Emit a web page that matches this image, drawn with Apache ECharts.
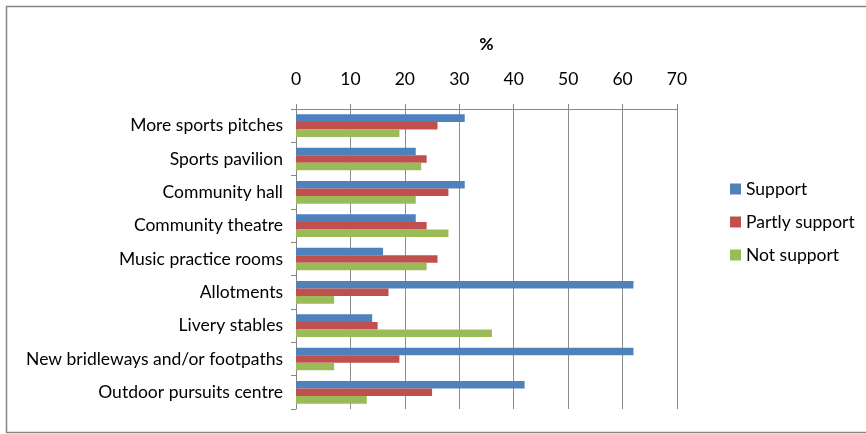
<!DOCTYPE html>
<html>
<head>
<meta charset="utf-8">
<script src="https://cdn.jsdelivr.net/npm/echarts@6/dist/echarts.min.js"></script>
<style>html,body{margin:0;padding:0;background:#fff}#c{width:866px;height:434px}</style>
</head>
<body>
<div id="c"></div>
<script>
const categories = ["More sports pitches","Sports pavilion","Community hall","Community theatre","Music practice rooms","Allotments","Livery stables","New bridleways and/or footpaths","Outdoor pursuits centre"];
const support = [31,22,31,22,16,62,14,62,42];
const partlySupport = [26,24,28,24,26,17,15,19,25];
const notSupport = [19,23,22,28,24,7,36,7,13];
const xTicks = {min:0, max:70, interval:10};
const seriesNames = ["Support","Partly support","Not support"];
const colors = ["#4F81BD","#C0504D","#9BBB59"];
const FONT = "Lato";

const chart = echarts.init(document.getElementById('c'), null, {renderer:'canvas'});
const data = [support, partlySupport, notSupport];
chart.setOption({
  animation:false,
  textStyle:{fontFamily:FONT},
  graphic:[{type:'rect', shape:{x:6.5,y:6.5,width:880,height:426}, style:{fill:'none',stroke:'#868686',lineWidth:1.5}, silent:true}],
  grid:{left:296, right:189, top:109, bottom:25, containLabel:false},
  legend:{orient:'vertical', left:725, top:175, itemWidth:11, itemHeight:11, itemGap:15, icon:'rect',
    textStyle:{fontFamily:FONT, fontSize:17.5, color:'#000'}, data:seriesNames},
  xAxis:{type:'value', position:'top', min:xTicks.min, max:xTicks.max, interval:xTicks.interval,
    name:'%', nameLocation:'middle', nameGap:56, nameTextStyle:{fontFamily:FONT, fontSize:17.5, fontWeight:'bold', color:'#000'},
    axisLine:{show:true, lineStyle:{color:'#868686', width:1}},
    axisTick:{show:true, length:5, lineStyle:{color:'#868686'}},
    axisLabel:{fontFamily:FONT, fontSize:17.5, color:'#000', margin:21},
    splitLine:{show:true, lineStyle:{color:'#8c8c8c', width:1}}},
  yAxis:{type:'category', inverse:true, data:categories,
    axisLine:{show:true, lineStyle:{color:'#868686', width:1}},
    axisTick:{show:true, length:5, lineStyle:{color:'#868686'}},
    axisLabel:{fontFamily:FONT, fontSize:17.5, color:'#000', margin:13}},
  series: seriesNames.map((n,i)=>({name:n, type:'bar', data:data[i], barGap:'0%', barCategoryGap:'32%',
    itemStyle:{color:colors[i]}}))
});
</script>
</body>
</html>
